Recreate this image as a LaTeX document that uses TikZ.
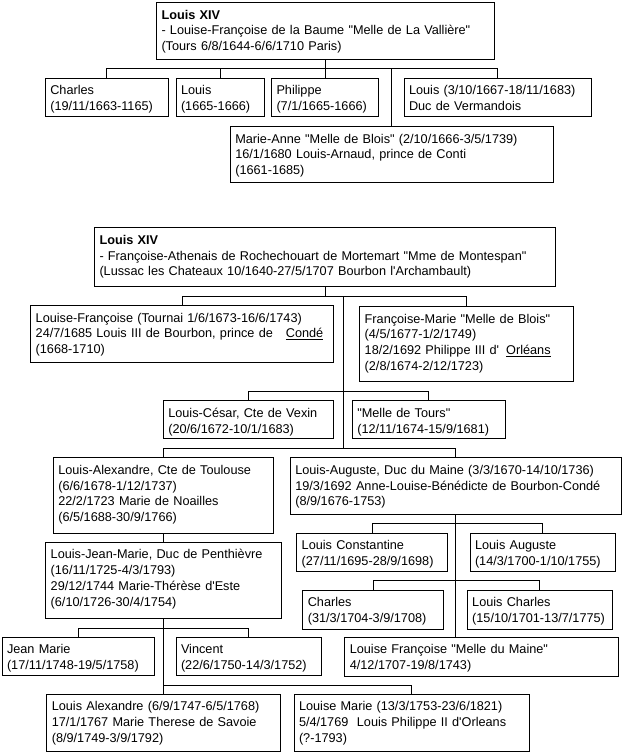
\documentclass[tikz,border=0pt]{standalone}
\usepackage{fontspec}
\newfontfamily\gfont{Liberation Sans}
\newcommand{\famcell}[6]{%
  \node[cell, minimum width={(#4-#2)*1pt}, minimum height={(#5-#3)*1pt}] (#1) at (#2,#3) {};
  \node[txt] (#1t) at ([shift={(5pt,-16.5pt)}]#1.north west) {#6};
}
\tikzset{
  cell/.style={draw=black, line width=1pt, inner sep=0pt, outer sep=0pt, anchor=north west, fill=white},
  txt/.style={anchor=base west, inner sep=0pt, outer sep=0pt, text width=700pt, align=left,
              font=\gfont\fontsize{12.7}{15.8}\selectfont},
  link/.style={draw=black, line width=1pt}
}
\begin{document}
\begin{tikzpicture}[x=1pt,y=-1pt]
\useasboundingbox[fill=white] (0,0) rectangle (625,753);
% ---------- group 1 ----------
\famcell{A}{156.5}{2.5}{494.5}{59.3}{\textbf{Louis XIV}\\- Louise-Françoise de la Baume "Melle de La Vallière"\\(Tours 6/8/1644-6/6/1710 Paris)}
\famcell{charles}{45.3}{78.3}{168.3}{116.3}{Charles\\(19/11/1663-1165)}
\famcell{louisA}{176}{78.3}{264}{116.3}{Louis\\(1665-1666)}
\famcell{phil}{271.5}{78.3}{378.5}{116.3}{Philippe\\(7/1/1665-1666)}
\famcell{verm}{404}{78.3}{591.2}{116.3}{Louis (3/10/1667-18/11/1683)\\Duc de Vermandois}
\famcell{ma}{230.3}{126.5}{553}{182}{Marie-Anne "Melle de Blois" (2/10/1666-3/5/1739)\\16/1/1680 Louis-Arnaud, prince de Conti\\(1661-1685)}
\coordinate (b1) at (A.south |- 0,68.5);
\draw[link] (A.south) -- (b1);
\foreach \n in {charles,louisA,phil,verm,ma} \draw[link] (\n.north) |- (b1);
% ---------- group 2 ----------
\famcell{B}{94.5}{227.7}{555.5}{286.3}{\textbf{Louis XIV}\\- Françoise-Athenais de Rochechouart de Mortemart "Mme de Montespan"\\(Lussac les Chateaux 10/1640-27/5/1707 Bourbon l'Archambault)}
\famcell{lf}{30.7}{305.5}{333.7}{362.3}{Louise-Françoise (Tournai 1/6/1673-16/6/1743)\\24/7/1685 Louis III de Bourbon, prince de\hspace{13pt}\underline{Condé}\\(1668-1710)}
\famcell{fm}{359.7}{306.5}{573.7}{381.7}{Françoise-Marie "Melle de Blois"\\(4/5/1677-1/2/1749)\\18/2/1692 Philippe III d'\hspace{7pt}\underline{Orléans}\\(2/8/1674-2/12/1723)}
\coordinate (b2) at (B.south |- 0,296.7);
\draw[link] (B.south) -- (b2);
\draw[link] (lf.north) |- (b2);
\draw[link] (fm.north) |- (b2);
\coordinate (t1) at (343.3,296.7);
\coordinate (t2) at (343.3,391);
\coordinate (t3) at (343.3,448.3);
\draw[link] (t1) -- (t3);
\famcell{lc}{163.3}{400.7}{333.7}{438.3}{Louis-César, Cte de Vexin\\(20/6/1672-10/1/1683)}
\famcell{mt}{352.3}{400.7}{505}{438.3}{"Melle de Tours"\\(12/11/1674-15/9/1681)}
\draw[link] (lc.north) |- (t2);
\draw[link] (mt.north) |- (t2);
\famcell{la}{53.3}{457.7}{273.3}{533.3}{Louis-Alexandre, Cte de Toulouse\\(6/6/1678-1/12/1737)\\22/2/1723 Marie de Noailles\\(6/5/1688-30/9/1766)}
\famcell{lau}{290.3}{457.7}{621.5}{514.3}{Louis-Auguste, Duc du Maine (3/3/1670-14/10/1736)\\19/3/1692 Anne-Louise-Bénédicte de Bourbon-Condé\\(8/9/1676-1753)}
\draw[link] (la.north) |- (t3);
\draw[link] (lau.north) |- (t3);
\famcell{ljm}{45.7}{542.3}{281.3}{618.3}{Louis-Jean-Marie, Duc de Penthièvre\\(16/11/1725-4/3/1793)\\29/12/1744 Marie-Thérèse d'Este\\(6/10/1726-30/4/1754)}
\draw[link] (la.south) -- (la.south |- ljm.north);
% Maine children
\famcell{lcon}{296.7}{533.3}{447.3}{571.7}{Louis Constantine\\(27/11/1695-28/9/1698)}
\famcell{laug}{470}{533.3}{615}{571.7}{Louis Auguste\\(14/3/1700-1/10/1755)}
\famcell{chB}{302.8}{590.3}{443.2}{629}{Charles\\(31/3/1704-3/9/1708)}
\famcell{lch}{467.2}{590.3}{612}{629}{Louis Charles\\(15/10/1701-13/7/1775)}
\famcell{lfm}{344.8}{637.3}{618}{676}{Louise Françoise "Melle du Maine"\\4/12/1707-19/8/1743)}
\coordinate (t4) at (lau.south |- 0,523.3);
\coordinate (t5) at (lau.south |- 0,580.7);
\draw[link] (lau.south) -- (lau.south |- lfm.north);
\draw[link] (lcon.north) |- (t4);
\draw[link] (laug.north) |- (t4);
\draw[link] (chB.north) |- (t5);
\draw[link] (lch.north) |- (t5);
% Penthievre children
\famcell{jm}{2}{637.3}{154}{675.7}{Jean Marie\\(17/11/1748-19/5/1758)}
\famcell{vin}{176}{637.3}{321.2}{675.7}{Vincent\\(22/6/1750-14/3/1752)}
\famcell{lax}{46.8}{694}{280}{751.5}{Louis Alexandre (6/9/1747-6/5/1768)\\17/1/1767 Marie Therese de Savoie\\(8/9/1749-3/9/1792)}
\famcell{lm}{294}{694}{529.2}{751.5}{Louise Marie (13/3/1753-23/6/1821)\\5/4/1769\ \ Louis Philippe II d'Orleans\\(?-1793)}
\coordinate (t6) at (ljm.south |- 0,628.3);
\coordinate (t7) at (ljm.south |- 0,685.7);
\draw[link] (ljm.south) -- (t7);
\draw[link] (jm.north) |- (t6);
\draw[link] (vin.north) |- (t6);
\draw[link] (lax.north) |- (t7);
\draw[link] (lm.north) |- (t7);
\end{tikzpicture}
\end{document}
